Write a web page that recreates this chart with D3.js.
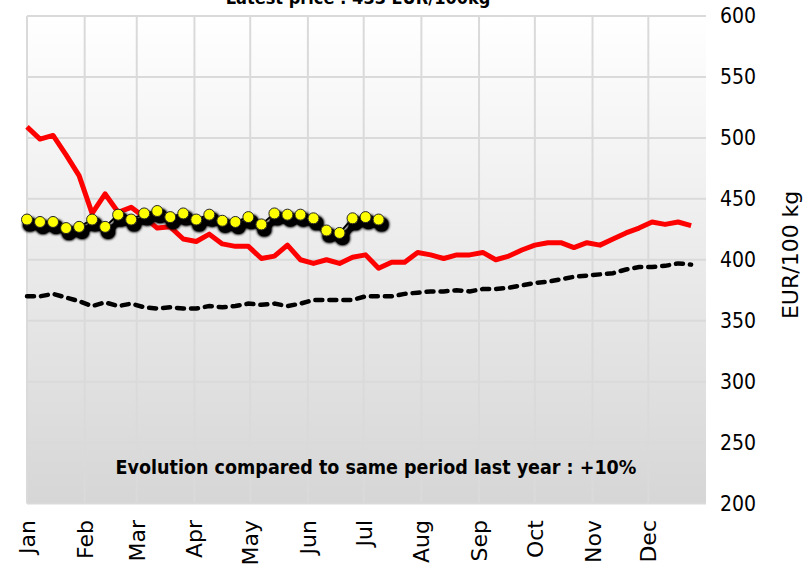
<!DOCTYPE html>
<html>
<head>
<meta charset="utf-8">
<script src="https://cdn.jsdelivr.net/npm/d3@7"></script>
<style>
  body { margin: 0; background: #fff; }
  text { font-family: "DejaVu Sans", sans-serif; fill: #000; }
  .bold { font-family: "DejaVu Sans Condensed", "DejaVu Sans", sans-serif; font-weight: bold; font-stretch: condensed; }
</style>
</head>
<body>
<div id="chart"></div>
<script>
// month labels along the bottom
var months = ["Jan","Feb","Mar","Apr","May","Jun","Jul","Aug","Sep","Oct","Nov","Dec"]
var yTicks = [200,250,300,350,400,450,500,550,600]

// weekly prices, EUR/100 kg
var currentYear = [433,431,431,426,427,433,427,437,433,438,440,435,438,433,437,432,431,435,429,438,437,437,434,424,422,434,435,433]
var lastYear = [509,499,502,486,469,438,454,439,443,435,426,427,417,415,421,413,411,411,401,403,412,400,397,400,397,402,
                404,393,398,398,406,404,401,404,404,406,400,403,408,412,414,414,410,414,412,417,422,426,431,429,431,428]
var average = [370,370,372,369,366,362,365,362,364,361,360,361,360,360,362,361,362,364,363,364,362,364,367,367,367,367,
               370,370,370,372,373,374,374,375,374,376,376,377,379,381,382,384,386,387,388,389,392,394,394,395,397,396]

var titleText = "Latest price : 433 EUR/100kg"
var noteText = "Evolution compared to same period last year : +10%"

var width = 812, height = 566
var margin = {top: 16, right: 106, bottom: 62, left: 27}

var start = new Date(2023, 0, 1)
var weekDate = function(i) { return d3.timeDay.offset(start, 7 * i) }

var x = d3.scaleTime()
    .domain([start, new Date(2024, 0, 1)])
    .range([margin.left, width - margin.right])

var y = d3.scaleLinear()
    .domain([200, 600])
    .range([height - margin.bottom - 0.5, margin.top])

var svg = d3.select("#chart").append("svg")
    .attr("width", width)
    .attr("height", height)

var defs = svg.append("defs")
var grad = defs.append("linearGradient")
    .attr("id", "bg").attr("x1", 0).attr("y1", 0).attr("x2", 0).attr("y2", 1)
grad.append("stop").attr("offset", "0%").attr("stop-color", "#ffffff")
grad.append("stop").attr("offset", "100%").attr("stop-color", "#d6d6d6")

// heavy black drop shadow under the markers
var shadow = defs.append("filter").attr("id", "shadow")
    .attr("x", "-50%").attr("y", "-50%").attr("width", "200%").attr("height", "200%")
shadow.append("feMorphology").attr("in", "SourceAlpha").attr("operator", "dilate").attr("radius", 1).attr("result", "big")
shadow.append("feGaussianBlur").attr("in", "big").attr("stdDeviation", 1.5).attr("result", "blur")
shadow.append("feOffset").attr("in", "blur").attr("dx", 3).attr("dy", 5).attr("result", "off")
var ct = shadow.append("feComponentTransfer").attr("in", "off").attr("result", "dark")
ct.append("feFuncA").attr("type", "linear").attr("slope", 1.8)
var merge = shadow.append("feMerge")
merge.append("feMergeNode").attr("in", "dark")
merge.append("feMergeNode").attr("in", "SourceGraphic")

// plot background
svg.append("rect")
    .attr("x", x.range()[0])
    .attr("y", y(600))
    .attr("width", x.range()[1] - x.range()[0])
    .attr("height", y(200) - y(600))
    .attr("fill", "url(#bg)")

// grid
var monthStarts = d3.timeMonth.range(start, new Date(2024, 0, 1))
svg.append("g").selectAll("line").data(monthStarts).enter().append("line")
    .attr("x1", function(d) { return x(d) }).attr("x2", function(d) { return x(d) })
    .attr("y1", y(600)).attr("y2", y(200))
    .attr("stroke", "#dadada").attr("stroke-width", 2)

svg.append("g").selectAll("line").data(yTicks).enter().append("line")
    .attr("x1", x.range()[0]).attr("x2", x.range()[1])
    .attr("y1", function(d) { return y(d) }).attr("y2", function(d) { return y(d) })
    .attr("stroke", "#dadada").attr("stroke-width", 2)

// right axis
var yAxis = svg.append("g")
    .attr("transform", "translate(" + x.range()[1] + ",0)")
    .call(d3.axisRight(y).tickValues(yTicks).tickSize(0).tickPadding(14))
yAxis.select(".domain").remove()
yAxis.selectAll("text")
    .style("font-family", "DejaVu Sans Condensed, DejaVu Sans")
    .style("font-size", "21px")

svg.append("text")
    .attr("transform", "translate(790," + y(404) + ") rotate(-90)")
    .attr("text-anchor", "middle")
    .attr("dy", "0.35em")
    .style("font-size", "22px")
    .text("EUR/100 kg")

// month labels
svg.append("g").selectAll("text").data(months).enter().append("text")
    .attr("transform", function(d, i) { return "translate(" + (x(monthStarts[i]) + 8) + ",520) rotate(-90)" })
    .attr("text-anchor", "end")
    .style("font-size", "22px")
    .text(function(d) { return d })

// lines
var line = d3.line()
    .x(function(d, i) { return x(weekDate(i)) })
    .y(function(d) { return y(d) })

svg.append("path")
    .datum(average)
    .attr("d", line)
    .attr("fill", "none")
    .attr("stroke", "#000")
    .attr("stroke-width", 4.5)
    .attr("stroke-linecap", "round")
    .attr("stroke-dasharray", "7,7")

svg.append("path")
    .datum(lastYear)
    .attr("d", line)
    .attr("fill", "none")
    .attr("stroke", "#ff0000")
    .attr("stroke-width", 5)
    .attr("stroke-linejoin", "round")

var cur = svg.append("g").attr("filter", "url(#shadow)")
cur.append("path")
    .datum(currentYear)
    .attr("d", line)
    .attr("fill", "none")
    .attr("stroke", "#000")
    .attr("stroke-width", 2)
cur.selectAll("circle").data(currentYear).enter().append("circle")
    .attr("cx", function(d, i) { return x(weekDate(i)) })
    .attr("cy", function(d) { return y(d) })
    .attr("r", 5.5)
    .attr("fill", "#ffff00")
    .attr("stroke", "#222")
    .attr("stroke-width", 1)

// texts
svg.append("text")
    .attr("class", "bold")
    .attr("x", 358)
    .attr("y", 4)
    .attr("text-anchor", "middle")
    .style("font-size", "18px")
    .text(titleText)

svg.append("text")
    .attr("class", "bold")
    .attr("x", 376)
    .attr("y", 474)
    .attr("text-anchor", "middle")
    .style("font-size", "19.5px")
    .text(noteText)
</script>
</body>
</html>
